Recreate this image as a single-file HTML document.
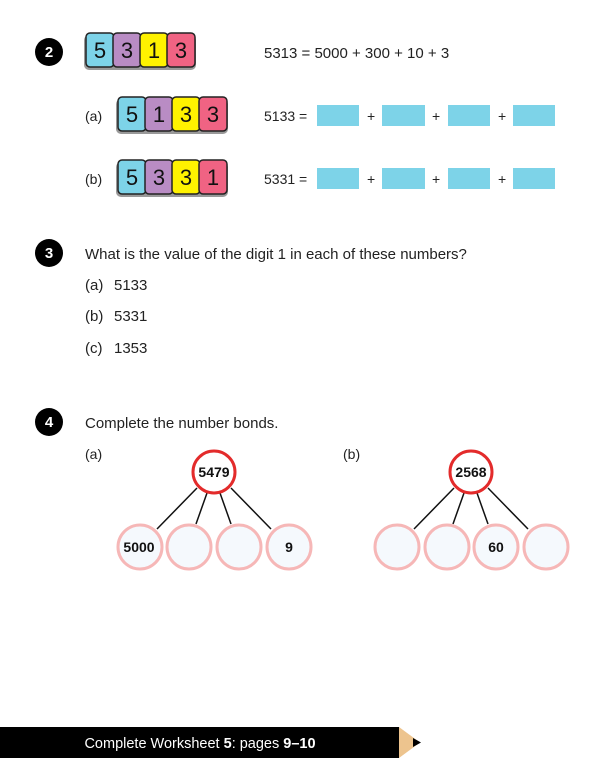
<!DOCTYPE html>
<html><head><meta charset="utf-8"><style>
html,body{margin:0;padding:0;background:#fff;}
svg{display:block;font-family:"Liberation Sans",sans-serif;}
</style></head><body>
<svg width="612" height="763" viewBox="0 0 612 763" xmlns="http://www.w3.org/2000/svg">
<defs>
<g id="t"><rect x="-1" y="2" width="28" height="35" rx="5" fill="#888"/></g>
</defs>
<!-- badges -->
<g fill="#000"><circle cx="49" cy="52" r="14"/><circle cx="49" cy="253" r="14"/><circle cx="49" cy="422" r="14"/></g>
<g fill="#fff" font-weight="bold" font-size="15" text-anchor="middle"><text x="49" y="57">2</text><text x="49" y="258">3</text><text x="49" y="427">4</text></g>

<!-- tile rows -->
<g font-size="22" text-anchor="middle" fill="#111">
<g transform="translate(86,33)">
<rect x="-2" y="2" width="112" height="35" rx="5" fill="#999"/>
<rect x="0" y="0" width="28" height="34" rx="4" fill="#7dd3e8" stroke="#222" stroke-width="1.5"/>
<rect x="27" y="0" width="28" height="34" rx="4" fill="#b98cc4" stroke="#222" stroke-width="1.5"/>
<rect x="54" y="0" width="28" height="34" rx="4" fill="#fff200" stroke="#222" stroke-width="1.5"/>
<rect x="81" y="0" width="28" height="34" rx="4" fill="#f06383" stroke="#222" stroke-width="1.5"/>
<text x="14" y="25">5</text><text x="41" y="25">3</text><text x="68" y="25">1</text><text x="95" y="25">3</text>
</g>
<g transform="translate(118,97)">
<rect x="-2" y="2" width="112" height="35" rx="5" fill="#999"/>
<rect x="0" y="0" width="28" height="34" rx="4" fill="#7dd3e8" stroke="#222" stroke-width="1.5"/>
<rect x="27" y="0" width="28" height="34" rx="4" fill="#b98cc4" stroke="#222" stroke-width="1.5"/>
<rect x="54" y="0" width="28" height="34" rx="4" fill="#fff200" stroke="#222" stroke-width="1.5"/>
<rect x="81" y="0" width="28" height="34" rx="4" fill="#f06383" stroke="#222" stroke-width="1.5"/>
<text x="14" y="25">5</text><text x="41" y="25">1</text><text x="68" y="25">3</text><text x="95" y="25">3</text>
</g>
<g transform="translate(118,160)">
<rect x="-2" y="2" width="112" height="35" rx="5" fill="#999"/>
<rect x="0" y="0" width="28" height="34" rx="4" fill="#7dd3e8" stroke="#222" stroke-width="1.5"/>
<rect x="27" y="0" width="28" height="34" rx="4" fill="#b98cc4" stroke="#222" stroke-width="1.5"/>
<rect x="54" y="0" width="28" height="34" rx="4" fill="#fff200" stroke="#222" stroke-width="1.5"/>
<rect x="81" y="0" width="28" height="34" rx="4" fill="#f06383" stroke="#222" stroke-width="1.5"/>
<text x="14" y="25">5</text><text x="41" y="25">3</text><text x="68" y="25">3</text><text x="95" y="25">1</text>
</g>
</g>

<g font-size="14" fill="#222">
<text x="264" y="58" font-size="15">5313 = 5000 + 300 + 10 + 3</text>
<text x="85" y="121">(a)</text><text x="85" y="184">(b)</text>
<text x="264" y="121">5133 =</text><text x="264" y="184">5331 =</text>
<text x="367" y="121">+</text><text x="432" y="121">+</text><text x="498" y="121">+</text>
<text x="367" y="184">+</text><text x="432" y="184">+</text><text x="498" y="184">+</text>
</g>
<g fill="#7dd3e8">
<rect x="317" y="105" width="42" height="21"/><rect x="382" y="105" width="43" height="21"/><rect x="448" y="105" width="42" height="21"/><rect x="513" y="105" width="42" height="21"/>
<rect x="317" y="168" width="42" height="21"/><rect x="382" y="168" width="43" height="21"/><rect x="448" y="168" width="42" height="21"/><rect x="513" y="168" width="42" height="21"/>
</g>

<g font-size="15" fill="#222">
<text x="85" y="259">What is the value of the digit 1 in each of these numbers?</text>
<text x="85" y="290">(a)</text><text x="114" y="290">5133</text>
<text x="85" y="321">(b)</text><text x="114" y="321">5331</text>
<text x="85" y="353">(c)</text><text x="114" y="353">1353</text>
<text x="85" y="428">Complete the number bonds.</text>
<text x="85" y="459" font-size="14">(a)</text>
<text x="343" y="459" font-size="14">(b)</text>
</g>

<!-- bonds -->
<g stroke="#111" stroke-width="1.5">
<line x1="197" y1="488" x2="157" y2="529"/><line x1="207" y1="493" x2="196" y2="524"/><line x1="220" y1="493" x2="231" y2="524"/><line x1="231" y1="488" x2="271" y2="529"/>
<line x1="454" y1="488" x2="414" y2="529"/><line x1="464" y1="493" x2="453" y2="524"/><line x1="477" y1="493" x2="488" y2="524"/><line x1="488" y1="488" x2="528" y2="529"/>
</g>
<g fill="#f5f9fd" stroke="#f6b7b7" stroke-width="3">
<circle cx="140" cy="547" r="22"/><circle cx="189" cy="547" r="22"/><circle cx="239" cy="547" r="22"/><circle cx="289" cy="547" r="22"/>
<circle cx="397" cy="547" r="22"/><circle cx="447" cy="547" r="22"/><circle cx="496" cy="547" r="22"/><circle cx="546" cy="547" r="22"/>
</g>
<g fill="#fff" stroke="#e32b2b" stroke-width="3">
<circle cx="214" cy="472" r="21"/><circle cx="471" cy="472" r="21"/>
</g>
<g font-size="14" font-weight="bold" fill="#111" text-anchor="middle">
<text x="214" y="477">5479</text><text x="471" y="477">2568</text>
<text x="139" y="552">5000</text><text x="289" y="552">9</text><text x="496" y="552">60</text>
</g>

<!-- footer -->
<rect x="0" y="727" width="399" height="31" fill="#000"/>
<polygon points="399,727 399,758 420,742.5" fill="#edc48e"/>
<polygon points="413,738 413,747 421,742.5" fill="#000"/>
<text x="200" y="748" font-size="14.5" fill="#fff" text-anchor="middle">Complete Worksheet <tspan font-weight="bold">5</tspan>: pages <tspan font-weight="bold">9–10</tspan></text>
</svg>
</body></html>
